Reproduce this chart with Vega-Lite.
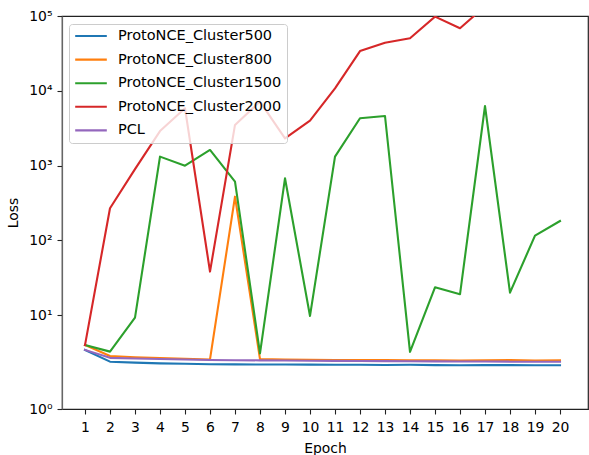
{
  "$schema": "https://vega.github.io/schema/vega-lite/v6.json",
  "width": 526,
  "height": 393,
  "autosize": {"type": "none"},
  "padding": {"left": 62, "top": 16, "right": 1, "bottom": 46},
  "config": {
    "font": "DejaVu Sans",
    "view": {"stroke": "#222", "strokeWidth": 1.2},
    "axis": {
      "grid": false,
      "labelFont": "DejaVu Sans",
      "labelFontSize": 13.9,
      "labelColor": "#000",
      "titleFont": "DejaVu Sans",
      "titleFontSize": 13.9,
      "titleFontWeight": "normal",
      "titleColor": "#000",
      "tickColor": "#222",
      "tickSize": 5,
      "tickWidth": 1.1,
      "domainColor": "#222",
      "domainWidth": 1.2
    },
    "legend": {
      "labelFont": "DejaVu Sans",
      "labelFontSize": 14.5,
      "labelColor": "#000",
      "labelLimit": 400
    }
  },
  "data": {
    "values": [
      {"epoch": 1, "model": "ProtoNCE_Cluster500", "loss": 3.45},
      {"epoch": 2, "model": "ProtoNCE_Cluster500", "loss": 2.40},
      {"epoch": 3, "model": "ProtoNCE_Cluster500", "loss": 2.33},
      {"epoch": 4, "model": "ProtoNCE_Cluster500", "loss": 2.28},
      {"epoch": 5, "model": "ProtoNCE_Cluster500", "loss": 2.25},
      {"epoch": 6, "model": "ProtoNCE_Cluster500", "loss": 2.22},
      {"epoch": 7, "model": "ProtoNCE_Cluster500", "loss": 2.21},
      {"epoch": 8, "model": "ProtoNCE_Cluster500", "loss": 2.20},
      {"epoch": 9, "model": "ProtoNCE_Cluster500", "loss": 2.20},
      {"epoch": 10, "model": "ProtoNCE_Cluster500", "loss": 2.19},
      {"epoch": 11, "model": "ProtoNCE_Cluster500", "loss": 2.18},
      {"epoch": 12, "model": "ProtoNCE_Cluster500", "loss": 2.18},
      {"epoch": 13, "model": "ProtoNCE_Cluster500", "loss": 2.17},
      {"epoch": 14, "model": "ProtoNCE_Cluster500", "loss": 2.18},
      {"epoch": 15, "model": "ProtoNCE_Cluster500", "loss": 2.16},
      {"epoch": 16, "model": "ProtoNCE_Cluster500", "loss": 2.15},
      {"epoch": 17, "model": "ProtoNCE_Cluster500", "loss": 2.16},
      {"epoch": 18, "model": "ProtoNCE_Cluster500", "loss": 2.16},
      {"epoch": 19, "model": "ProtoNCE_Cluster500", "loss": 2.15},
      {"epoch": 20, "model": "ProtoNCE_Cluster500", "loss": 2.15},

      {"epoch": 1, "model": "ProtoNCE_Cluster800", "loss": 4.0},
      {"epoch": 2, "model": "ProtoNCE_Cluster800", "loss": 2.86},
      {"epoch": 3, "model": "ProtoNCE_Cluster800", "loss": 2.75},
      {"epoch": 4, "model": "ProtoNCE_Cluster800", "loss": 2.68},
      {"epoch": 5, "model": "ProtoNCE_Cluster800", "loss": 2.62},
      {"epoch": 6, "model": "ProtoNCE_Cluster800", "loss": 2.57},
      {"epoch": 7, "model": "ProtoNCE_Cluster800", "loss": 385},
      {"epoch": 8, "model": "ProtoNCE_Cluster800", "loss": 2.60},
      {"epoch": 9, "model": "ProtoNCE_Cluster800", "loss": 2.57},
      {"epoch": 10, "model": "ProtoNCE_Cluster800", "loss": 2.54},
      {"epoch": 11, "model": "ProtoNCE_Cluster800", "loss": 2.53},
      {"epoch": 12, "model": "ProtoNCE_Cluster800", "loss": 2.52},
      {"epoch": 13, "model": "ProtoNCE_Cluster800", "loss": 2.52},
      {"epoch": 14, "model": "ProtoNCE_Cluster800", "loss": 2.51},
      {"epoch": 15, "model": "ProtoNCE_Cluster800", "loss": 2.50},
      {"epoch": 16, "model": "ProtoNCE_Cluster800", "loss": 2.49},
      {"epoch": 17, "model": "ProtoNCE_Cluster800", "loss": 2.50},
      {"epoch": 18, "model": "ProtoNCE_Cluster800", "loss": 2.53},
      {"epoch": 19, "model": "ProtoNCE_Cluster800", "loss": 2.49},
      {"epoch": 20, "model": "ProtoNCE_Cluster800", "loss": 2.50},

      {"epoch": 1, "model": "ProtoNCE_Cluster1500", "loss": 4.0},
      {"epoch": 2, "model": "ProtoNCE_Cluster1500", "loss": 3.27},
      {"epoch": 3, "model": "ProtoNCE_Cluster1500", "loss": 9.3},
      {"epoch": 4, "model": "ProtoNCE_Cluster1500", "loss": 1320},
      {"epoch": 5, "model": "ProtoNCE_Cluster1500", "loss": 1000},
      {"epoch": 6, "model": "ProtoNCE_Cluster1500", "loss": 1620},
      {"epoch": 7, "model": "ProtoNCE_Cluster1500", "loss": 611},
      {"epoch": 8, "model": "ProtoNCE_Cluster1500", "loss": 3.1},
      {"epoch": 9, "model": "ProtoNCE_Cluster1500", "loss": 678},
      {"epoch": 10, "model": "ProtoNCE_Cluster1500", "loss": 9.8},
      {"epoch": 11, "model": "ProtoNCE_Cluster1500", "loss": 1320},
      {"epoch": 12, "model": "ProtoNCE_Cluster1500", "loss": 4300},
      {"epoch": 13, "model": "ProtoNCE_Cluster1500", "loss": 4610},
      {"epoch": 14, "model": "ProtoNCE_Cluster1500", "loss": 3.25},
      {"epoch": 15, "model": "ProtoNCE_Cluster1500", "loss": 23.7},
      {"epoch": 16, "model": "ProtoNCE_Cluster1500", "loss": 19.1},
      {"epoch": 17, "model": "ProtoNCE_Cluster1500", "loss": 6270},
      {"epoch": 18, "model": "ProtoNCE_Cluster1500", "loss": 20.1},
      {"epoch": 19, "model": "ProtoNCE_Cluster1500", "loss": 116},
      {"epoch": 20, "model": "ProtoNCE_Cluster1500", "loss": 182},

      {"epoch": 1, "model": "ProtoNCE_Cluster2000", "loss": 4.0},
      {"epoch": 2, "model": "ProtoNCE_Cluster2000", "loss": 270},
      {"epoch": 3, "model": "ProtoNCE_Cluster2000", "loss": 900},
      {"epoch": 4, "model": "ProtoNCE_Cluster2000", "loss": 2900},
      {"epoch": 5, "model": "ProtoNCE_Cluster2000", "loss": 5850},
      {"epoch": 6, "model": "ProtoNCE_Cluster2000", "loss": 38.4},
      {"epoch": 7, "model": "ProtoNCE_Cluster2000", "loss": 3500},
      {"epoch": 8, "model": "ProtoNCE_Cluster2000", "loss": 7190},
      {"epoch": 9, "model": "ProtoNCE_Cluster2000", "loss": 2320},
      {"epoch": 10, "model": "ProtoNCE_Cluster2000", "loss": 3990},
      {"epoch": 11, "model": "ProtoNCE_Cluster2000", "loss": 10800},
      {"epoch": 12, "model": "ProtoNCE_Cluster2000", "loss": 34000},
      {"epoch": 13, "model": "ProtoNCE_Cluster2000", "loss": 44000},
      {"epoch": 14, "model": "ProtoNCE_Cluster2000", "loss": 50300},
      {"epoch": 15, "model": "ProtoNCE_Cluster2000", "loss": 98000},
      {"epoch": 16, "model": "ProtoNCE_Cluster2000", "loss": 68500},
      {"epoch": 17, "model": "ProtoNCE_Cluster2000", "loss": 135000},
      {"epoch": 18, "model": "ProtoNCE_Cluster2000", "loss": 180000},
      {"epoch": 19, "model": "ProtoNCE_Cluster2000", "loss": 250000},
      {"epoch": 20, "model": "ProtoNCE_Cluster2000", "loss": 300000},

      {"epoch": 1, "model": "PCL", "loss": 3.45},
      {"epoch": 2, "model": "PCL", "loss": 2.70},
      {"epoch": 3, "model": "PCL", "loss": 2.65},
      {"epoch": 4, "model": "PCL", "loss": 2.60},
      {"epoch": 5, "model": "PCL", "loss": 2.57},
      {"epoch": 6, "model": "PCL", "loss": 2.53},
      {"epoch": 7, "model": "PCL", "loss": 2.51},
      {"epoch": 8, "model": "PCL", "loss": 2.50},
      {"epoch": 9, "model": "PCL", "loss": 2.49},
      {"epoch": 10, "model": "PCL", "loss": 2.47},
      {"epoch": 11, "model": "PCL", "loss": 2.46},
      {"epoch": 12, "model": "PCL", "loss": 2.45},
      {"epoch": 13, "model": "PCL", "loss": 2.44},
      {"epoch": 14, "model": "PCL", "loss": 2.43},
      {"epoch": 15, "model": "PCL", "loss": 2.42},
      {"epoch": 16, "model": "PCL", "loss": 2.41},
      {"epoch": 17, "model": "PCL", "loss": 2.41},
      {"epoch": 18, "model": "PCL", "loss": 2.40},
      {"epoch": 19, "model": "PCL", "loss": 2.40},
      {"epoch": 20, "model": "PCL", "loss": 2.40}
    ]
  },
  "mark": {"type": "line", "clip": true, "strokeWidth": 2.1, "strokeJoin": "round", "strokeCap": "square"},
  "encoding": {
    "x": {
      "field": "epoch",
      "type": "quantitative",
      "scale": {"domain": [0.08, 21.12], "nice": false, "zero": false},
      "axis": {
        "values": [1,2,3,4,5,6,7,8,9,10,11,12,13,14,15,16,17,18,19,20],
        "format": "d",
        "labelAngle": 0,
        "labelPadding": 6.5,
        "title": "Epoch",
        "titleBaseline": "alphabetic",
        "titleY": 43.7,
        "titleX": 263
      }
    },
    "y": {
      "field": "loss",
      "type": "quantitative",
      "scale": {"type": "log", "domain": [1, 2, 100000], "range": [393, 351.6, 0], "nice": false},
      "axis": {
        "values": [1, 10, 100, 1000, 10000, 100000],
        "labelExpr": "'10' + ['⁰','¹','²','³','⁴','⁵'][round(log(datum.value)/LN10)]",
        "labelPadding": 5,
        "domainColor": "#666",
        "title": "Loss",
        "titleX": -49,
        "titleY": 196.5,
        "titleBaseline": "middle",
        "titleAngle": -90
      }
    },
    "color": {
      "field": "model",
      "type": "nominal",
      "scale": {
        "domain": ["ProtoNCE_Cluster500", "ProtoNCE_Cluster800", "ProtoNCE_Cluster1500", "ProtoNCE_Cluster2000", "PCL"],
        "range": ["#1f77b4", "#ff7f0e", "#2ca02c", "#d62728", "#9467bd"]
      },
      "legend": {
        "title": null,
        "orient": "none",
        "legendX": 7,
        "legendY": 8,
        "symbolType": "stroke",
        "symbolSize": 1000,
        "symbolStrokeWidth": 2.1,
        "clipHeight": 14,
        "labelOffset": 10,
        "labelLimit": 400,
        "rowPadding": 8.6,
        "padding": 5,
        "fillColor": "rgba(255,255,255,0.8)",
        "strokeColor": "#cccccc",
        "cornerRadius": 3
      }
    }
  }
}
